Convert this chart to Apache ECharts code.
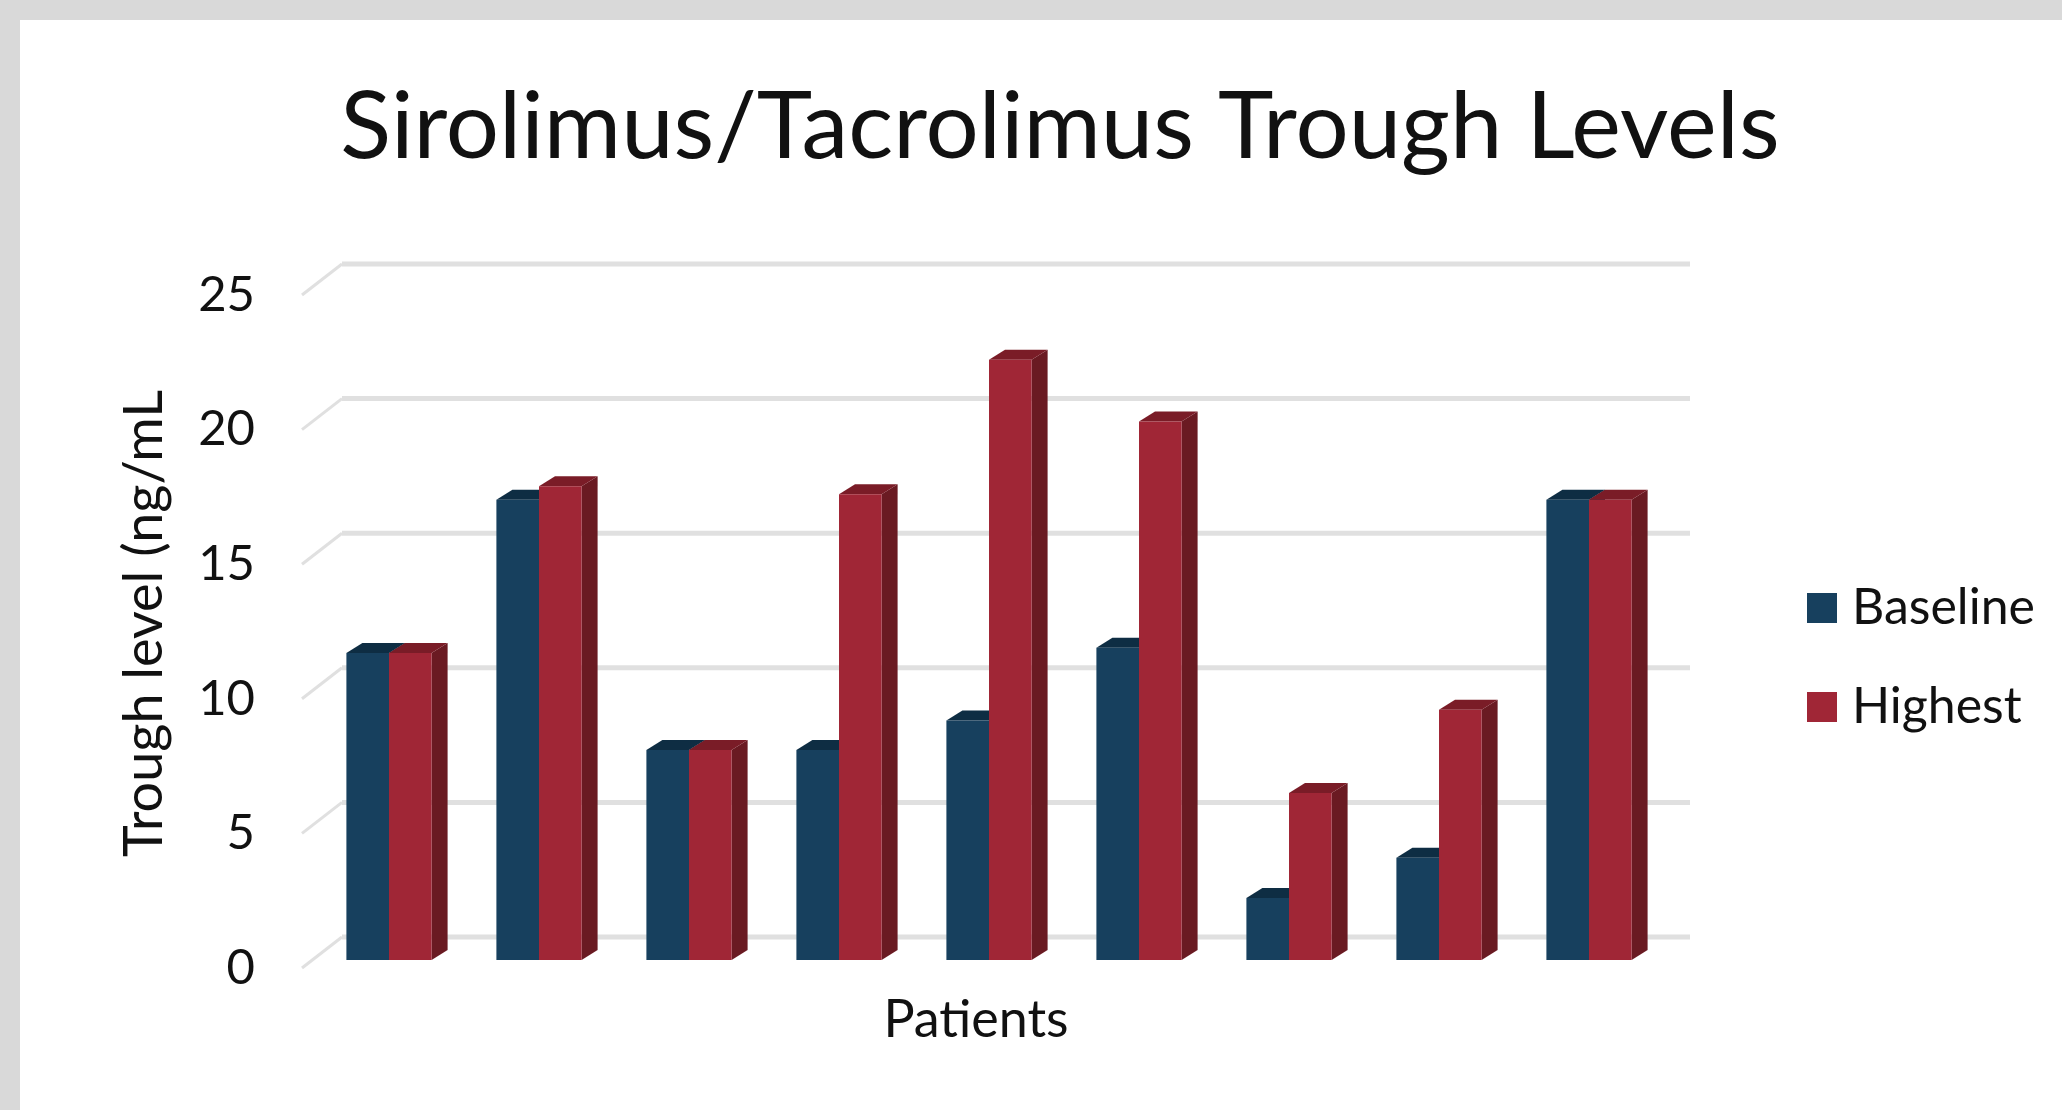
<!DOCTYPE html>
<html>
<head>
<meta charset="utf-8">
<title>Sirolimus/Tacrolimus Trough Levels</title>
<script src="https://cdn.jsdelivr.net/npm/echarts@6/dist/echarts.min.js"></script>
<style>
  html, body { margin: 0; padding: 0; background: #ffffff; }
  #chart { width: 2062px; height: 1110px; }
</style>
</head>
<body>
<div id="chart"></div>
<script>
// Trough levels per patient (ng/mL)
const patients = ['1', '2', '3', '4', '5', '6', '7', '8', '9'];
const baseline = [11.4, 17.1, 7.8, 7.8, 8.9, 11.6, 2.3, 3.8, 17.1];
const highest = [11.4, 17.6, 7.8, 17.3, 22.3, 20.0, 6.2, 9.3, 17.1];
const yTicks = [0, 5, 10, 15, 20, 25];

const FONT = 'Lato, "Noto Sans", sans-serif';

// pseudo-3D depth offsets
const BAR_DX = 16, BAR_DY = 10;      // depth of each column
const WALL_DX = 28, WALL_DY = 23;    // from column faces back to the wall
const FLOOR_DX = 12, FLOOR_DY = 8;   // from column faces forward to the floor edge

const palette = {
  Baseline: { front: '#17405e', top: '#0e2d43', side: '#0e2d43' },
  Highest: { front: '#a02636', top: '#7a1c27', side: '#6a1a22' }
};

function columnRenderer(side, colors) {
  return function (params, api) {
    const idx = api.value(0);
    const v = api.value(1);
    const top = api.coord([idx, v]);
    const base = api.coord([idx, 0]);
    const band = api.size([1, 0])[0];
    const w = band * 0.284;
    const x0 = side < 0 ? top[0] - w : top[0];
    const x1 = x0 + w;
    const yT = top[1];
    const yB = base[1];
    return {
      type: 'group',
      children: [
        { type: 'polygon', shape: { points: [[x1, yT], [x1 + BAR_DX, yT - BAR_DY], [x1 + BAR_DX, yB - BAR_DY], [x1, yB]] },
          style: { fill: colors.side } },
        { type: 'polygon', shape: { points: [[x0, yT], [x0 + BAR_DX, yT - BAR_DY], [x1 + BAR_DX, yT - BAR_DY], [x1, yT]] },
          style: { fill: colors.top } },
        { type: 'rect', shape: { x: x0, y: yT, width: w, height: yB - yT },
          style: { fill: colors.front } }
      ]
    };
  };
}

// back-wall gridlines with the diagonal floor/side-wall edge at each tick
function wallRenderer(params, api) {
  const cs = params.coordSys;
  const y = api.coord([0, api.value(1)])[1];
  const left = cs.x, right = cs.x + cs.width;
  return {
    type: 'group',
    children: [
      { type: 'line', shape: { x1: left - FLOOR_DX, y1: y + FLOOR_DY, x2: left + WALL_DX, y2: y - WALL_DY },
        style: { stroke: '#e0e0e0', lineWidth: 3 } },
      { type: 'line', shape: { x1: left + WALL_DX, y1: y - WALL_DY, x2: right + WALL_DX - 2, y2: y - WALL_DY },
        style: { stroke: '#e0e0e0', lineWidth: 5 } }
    ]
  };
}

const chart = echarts.init(document.getElementById('chart'), null, { renderer: 'canvas' });

chart.setOption({
  backgroundColor: '#ffffff',
  animation: false,
  textStyle: { fontFamily: FONT },
  graphic: [
    { type: 'rect', left: 0, top: 0, shape: { width: 2062, height: 20 }, style: { fill: '#d9d9d9' }, z: -10 },
    { type: 'rect', left: 0, top: 0, shape: { width: 20, height: 1110 }, style: { fill: '#d9d9d9' }, z: -10 }
  ],
  title: {
    text: 'Sirolimus/Tacrolimus Trough Levels',
    left: 1055,
    top: 76,
    textAlign: 'center',
    textStyle: { fontFamily: FONT, fontSize: 94, fontWeight: 'normal', color: '#111111' }
  },
  legend: {
    orient: 'vertical',
    left: 1802,
    top: 578,
    itemWidth: 30,
    itemHeight: 30,
    itemGap: 49,
    icon: 'rect',
    data: ['Baseline', 'Highest'],
    textStyle: { fontFamily: FONT, fontSize: 50, color: '#111111', padding: [0, 0, 0, 10] }
  },
  grid: { left: 314, top: 287, width: 1350, height: 673 },
  xAxis: {
    type: 'category',
    data: patients,
    name: 'Patients',
    nameLocation: 'middle',
    nameGap: 34,
    nameTextStyle: { fontFamily: FONT, fontSize: 52, color: '#111111', padding: [0, 26, 0, 0] },
    axisLine: { show: false },
    axisTick: { show: false },
    axisLabel: { show: false },
    splitLine: { show: false }
  },
  yAxis: {
    type: 'value',
    min: 0,
    max: 25,
    interval: 5,
    name: 'Trough level (ng/mL',
    nameLocation: 'middle',
    nameGap: 142,
    nameTextStyle: { fontFamily: FONT, fontSize: 54, color: '#111111' },
    axisLine: { show: false },
    axisTick: { show: false },
    splitLine: { show: false },
    axisLabel: {
      margin: 59,
      formatter: '{t|{value}}',
      rich: { t: { fontFamily: FONT, fontSize: 49, color: '#111111', padding: [16, 0, 0, 0] } }
    }
  },
  series: [
    {
      type: 'custom',
      name: 'wall',
      z: 1,
      silent: true,
      clip: false,
      renderItem: wallRenderer,
      data: yTicks.map(function (v) { return [0, v]; }),
      encode: { x: 0, y: 1 }
    },
    {
      type: 'custom',
      name: 'Baseline',
      z: 2,
      clip: false,
      itemStyle: { color: palette.Baseline.front },
      renderItem: columnRenderer(-1, palette.Baseline),
      data: baseline.map(function (v, i) { return [i, v]; }),
      encode: { x: 0, y: 1 }
    },
    {
      type: 'custom',
      name: 'Highest',
      z: 3,
      clip: false,
      itemStyle: { color: palette.Highest.front },
      renderItem: columnRenderer(1, palette.Highest),
      data: highest.map(function (v, i) { return [i, v]; }),
      encode: { x: 0, y: 1 }
    }
  ]
});
</script>
</body>
</html>
